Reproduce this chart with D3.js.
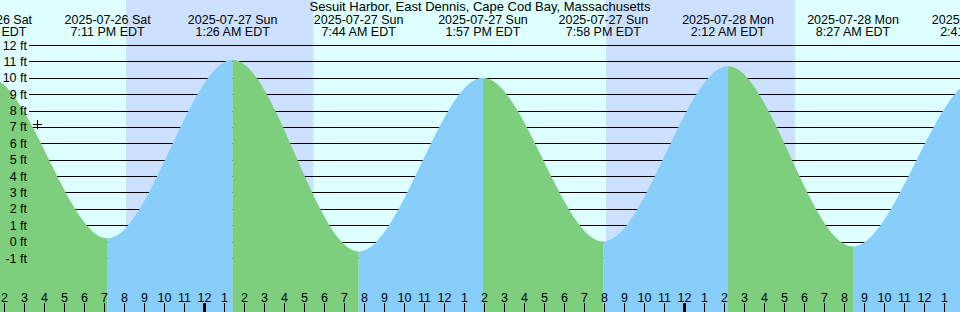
<!DOCTYPE html>
<html>
<head>
<meta charset="utf-8">
<script src="https://cdn.jsdelivr.net/npm/d3@7"></script>
<style>
  body { margin: 0; background: #fff; }
  #chart { width: 960px; height: 312px; overflow: hidden; }
  text { font-family: "Liberation Sans", Arial, sans-serif; font-size: 12.5px; fill: #000; }
</style>
</head>
<body>
<div id="chart"></div>
<script>
// donnees (heure locale EDT)
// la premiere et la derniere maree sont hors cadre, elles servent juste a la courbe
var stationName = "Sesuit Harbor, East Dennis, Cape Cod Bay, Massachusetts";
var tideTimes = ["2025-07-26 07:00", "2025-07-26 13:15", "2025-07-26 19:11", "2025-07-27 01:26",
                 "2025-07-27 07:44", "2025-07-27 13:57", "2025-07-27 19:58", "2025-07-28 02:12",
                 "2025-07-28 08:27", "2025-07-28 14:41", "2025-07-28 20:50"];
var tideHeights = [-0.3, 10.0, 0.2, 11.1, -0.6, 10.0, 0.0, 10.7, -0.3, 9.9, 0.3];
var nightStarts = ["2025-07-26 20:06", "2025-07-27 20:06"];
var nightEnds = ["2025-07-27 05:28", "2025-07-28 05:33"];
var feetTicks = [-1, 0, 1, 2, 3, 4, 5, 6, 7, 8, 9, 10, 11, 12];
var viewStart = "2025-07-26 13:48", viewEnd = "2025-07-28 13:48";
var nowTime = "2025-07-26 15:40", nowHeight = 7.2;

class tideChart {
    constructor(params) {
        var me = this;
        this.cont = d3.select("#" + params.idCont);
        this.width = params.width ? params.width : 960;
        this.height = params.height ? params.height : 312;

        var parse = d3.timeParse("%Y-%m-%d %H:%M")
        , fmtDay = d3.timeFormat("%Y-%m-%d %a")
        , fmtHour = d3.timeFormat("%-I:%M %p EDT")
        , svg, x, y;

        var tides = tideTimes.map((t, i) => ({ date: parse(t), h: tideHeights[i] }));

        this.init = function () {
            x = d3.scaleTime()
                .domain([parse(viewStart), parse(viewEnd)])
                .range([0, me.width]);
            y = d3.scaleLinear()
                .domain([-1, 12])
                .range([258, 45]);

            svg = me.cont.append("svg")
                .attr("width", me.width)
                .attr("height", me.height);

            // fond jour / nuit
            svg.append("rect")
                .attr("width", me.width).attr("height", me.height)
                .attr("fill", "#ddffff");
            svg.append("g").selectAll("rect")
                .data(nightStarts.map((s, i) => [parse(s), parse(nightEnds[i])]))
                .join("rect")
                .attr("x", d => x(d[0]))
                .attr("width", d => x(d[1]) - x(d[0]))
                .attr("height", me.height)
                .attr("fill", "#cce0ff");

            // lignes des pieds
            svg.append("g").selectAll("line")
                .data(feetTicks)
                .join("line")
                .attr("x1", 29).attr("x2", me.width)
                .attr("y1", d => Math.round(y(d)) + 0.5)
                .attr("y2", d => Math.round(y(d)) + 0.5)
                .attr("stroke", "#000");

            // maree : vert = descendante, bleu = montante
            var area = d3.area()
                .x(d => x(d.date))
                .y0(me.height)
                .y1(d => y(d.h))
                .curve(d3.curveMonotoneX);

            var segs = d3.pairs(tides);
            var defs = svg.append("defs");
            defs.selectAll("clipPath")
                .data(segs)
                .join("clipPath")
                .attr("id", (d, i) => "seg" + i)
                .append("rect")
                .attr("x", d => x(d[0].date))
                .attr("width", d => x(d[1].date) - x(d[0].date))
                .attr("height", me.height);

            svg.append("g").selectAll("path")
                .data(segs)
                .join("path")
                .attr("clip-path", (d, i) => "url(#seg" + i + ")")
                .attr("d", area(tides))
                .attr("fill", d => d[0].h > d[1].h ? "#7dcf7d" : "#87cefa");

            // etiquettes des pieds
            svg.append("g").selectAll("text")
                .data(feetTicks)
                .join("text")
                .attr("x", 27)
                .attr("y", d => y(d))
                .attr("dy", "0.36em")
                .attr("text-anchor", "end")
                .text(d => d + " ft");

            // axe des heures
            var axis = d3.axisTop(x)
                .ticks(d3.timeHour.every(1))
                .tickSize(9)
                .tickPadding(1.5)
                .tickFormat(d3.timeFormat("%-I"));
            var gAxis = svg.append("g")
                .attr("transform", `translate(0,${me.height})`)
                .call(axis);
            gAxis.select(".domain").remove();
            gAxis.selectAll("text")
                .attr("font-size", null).attr("font-family", null)
                .style("font-size", "12.5px");
            gAxis.selectAll(".tick line")
                .attr("stroke-width", d => d.getHours() === 0 ? 3 : 1);

            // heures de maree en haut (seulement celles pres du cadre)
            var lab = svg.append("g").selectAll("text")
                .data(tides.filter(d => x(d.date) > -60 && x(d.date) < me.width + 60))
                .join("text")
                .attr("text-anchor", "middle")
                .attr("transform", d => `translate(${x(d.date)},0)`);
            lab.append("tspan").attr("x", 0).attr("y", 24).text(d => fmtDay(d.date));
            lab.append("tspan").attr("x", 0).attr("y", 36).text(d => fmtHour(d.date));

            svg.append("text")
                .attr("x", me.width / 2)
                .attr("y", 11)
                .attr("text-anchor", "middle")
                .style("font-size", "13px")
                .text(stationName);

            // repere de l'heure actuelle
            svg.append("path")
                .attr("transform", `translate(${Math.round(x(parse(nowTime))) + 0.5},${Math.round(y(nowHeight)) + 0.5})`)
                .attr("d", "M-4.5,0H4.5M0,-4.5V4.5")
                .attr("stroke", "#000");
        };

        this.init();
    }
}

new tideChart({ idCont: "chart", width: 960, height: 312 });
</script>
</body>
</html>
